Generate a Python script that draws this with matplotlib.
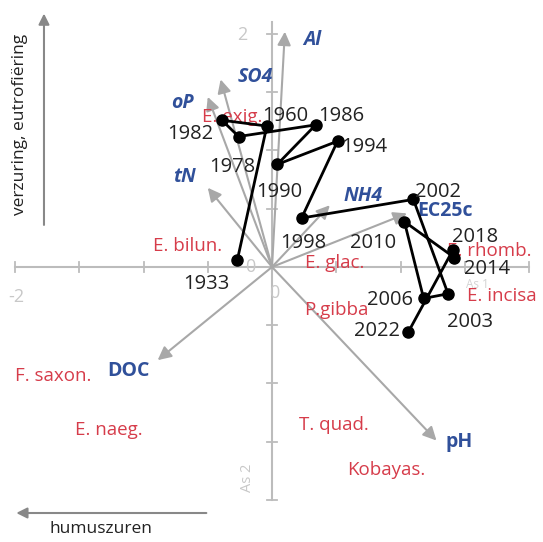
import matplotlib.pyplot as plt
import numpy as np

plt.rcParams['font.family'] = ['Open Sans', 'DejaVu Sans']

# sample trajectory (years) on the ordination axes
years = ['1933', '1960', '1978', '1982', '1986', '1990', '1994', '1998',
         '2002', '2003', '2006', '2010', '2014', '2018', '2022']
as1 = [-0.27, -0.04, -0.39, -0.26, 0.34, 0.04, 0.51, 0.23,
       1.10, 1.37, 1.18, 1.03, 1.42, 1.41, 1.06]
as2 = [0.06, 1.21, 1.26, 1.12, 1.22, 0.88, 1.08, 0.42,
       0.58, -0.23, -0.27, 0.39, 0.08, 0.15, -0.56]

# environmental vectors
env = ['Al', 'SO4', 'oP', 'tN', 'NH4', 'EC25c', 'DOC', 'pH']
env_x = [0.10, -0.40, -0.50, -0.50, 0.45, 1.05, -0.89, 1.28]
env_y = [2.02, 1.61, 1.46, 0.68, 0.53, 0.46, -0.80, -1.49]

# species scores
species = ['E. exig.', 'E. bilun.', 'E. glac.', 'P.gibba', 'E. rhomb.',
           'E. incisa', 'F. saxon.', 'E. naeg.', 'T. quad.', 'Kobayas.']
sp_x = [-0.31, -0.66, 0.49, 0.50, 1.69, 1.79, -1.70, -1.27, 0.48, 0.89]
sp_y = [1.29, 0.18, 0.03, -0.37, 0.14, -0.25, -0.94, -1.40, -1.36, -1.74]

# label placement
year_lab = {'1933': (-0.51, -0.15), '1960': (0.10, 1.30), '1978': (-0.31, 0.86),
            '1982': (-0.64, 1.14), '1986': (0.54, 1.30), '1990': (0.06, 0.64),
            '1994': (0.72, 1.03), '1998': (0.24, 0.21), '2002': (1.29, 0.64),
            '2003': (1.54, -0.47), '2006': (0.92, -0.28), '2010': (0.79, 0.21),
            '2014': (1.67, -0.02), '2018': (1.58, 0.26), '2022': (0.82, -0.55)}
env_lab = {'Al': (0.31, 1.95), 'SO4': (-0.13, 1.63), 'oP': (-0.70, 1.41),
           'tN': (-0.68, 0.77), 'NH4': (0.71, 0.61), 'EC25c': (1.35, 0.48),
           'DOC': (-1.12, -0.89), 'pH': (1.46, -1.50)}
env_italic = ['Al', 'SO4', 'oP', 'tN', 'NH4']

red = '#d63c4a'
blue = '#30509a'
axcol = '#bcbcbc'
arrcol = '#a8a8a8'

fig = plt.figure(figsize=(5.43, 5.42), dpi=100)
ax = fig.add_axes([0, 0, 1, 1])
ax.set_xlim(-2.117, 2.109)
ax.set_ylim(-2.361, 2.292)
ax.axis('off')

# axes cross
ax.plot([-2, 2], [0, 0], color=axcol, lw=1.5, zorder=1)
ax.plot([0, 0], [-2, 2.1], color=axcol, lw=1.5, zorder=1)
for t in np.arange(-2, 2.01, 0.5):
    ax.plot([t, t], [-0.04, 0.04], color=axcol, lw=1.3, zorder=1)
    ax.plot([-0.04, 0.04], [t, t], color=axcol, lw=1.3, zorder=1)
ax.text(-1.99, -0.26, '-2', color='#c8c8c8', fontsize=13, ha='center', va='center')
ax.text(-0.23, 1.99, '2', color='#c8c8c8', fontsize=13, ha='center', va='center')
ax.text(-0.17, 0.0, '0', color='#c8c8c8', fontsize=13, ha='center', va='center')
ax.text(0.02, -0.22, '0', color='#c8c8c8', fontsize=13, ha='center', va='center')
ax.text(1.60, -0.15, 'As 1', color='#d4d4d4', fontsize=8.5, ha='center', va='center')
ax.text(-0.19, -1.81, 'As 2', color='#c8c8c8', fontsize=10.5, ha='center',
        va='center', rotation=90)

# environmental arrows
for name, x, y in zip(env, env_x, env_y):
    ax.annotate('', xy=(x, y), xytext=(0, 0),
                arrowprops=dict(arrowstyle='-|>', color=arrcol, lw=1.5,
                                mutation_scale=20, shrinkA=0, shrinkB=0),
                zorder=2)
    lx, ly = env_lab[name]
    ax.text(lx, ly, name, color=blue, fontsize=14, fontweight='bold',
            style='italic' if name in env_italic else 'normal',
            ha='center', va='center', zorder=3)

# species
for name, x, y in zip(species, sp_x, sp_y):
    ax.text(x, y, name, color=red, fontsize=13.5, ha='center', va='center', zorder=3)

# trajectory
ax.plot(as1, as2, color='black', lw=2, marker='o', markersize=8, zorder=5)
for yr in years:
    lx, ly = year_lab[yr]
    ax.text(lx, ly, yr, color='#222222', fontsize=14.5, ha='center', va='center', zorder=6)

# gradient arrows
ax.annotate('', xy=(0.081, 0.975), xytext=(0.081, 0.585), xycoords='axes fraction',
            arrowprops=dict(arrowstyle='-|>', color='#888888', lw=1.5,
                            mutation_scale=16, shrinkA=0, shrinkB=0))
ax.text(0.036, 0.77, 'verzuring, eutrofiëring', transform=ax.transAxes,
        rotation=90, fontsize=12.5, ha='center', va='center', color='#222222')
ax.annotate('', xy=(0.030, 0.0535), xytext=(0.38, 0.0535), xycoords='axes fraction',
            arrowprops=dict(arrowstyle='-|>', color='#888888', lw=1.5,
                            mutation_scale=16, shrinkA=0, shrinkB=0))
ax.text(0.185, 0.024, 'humuszuren', transform=ax.transAxes,
        fontsize=12.5, ha='center', va='center', color='#222222')

plt.savefig('out.png', dpi=100)
